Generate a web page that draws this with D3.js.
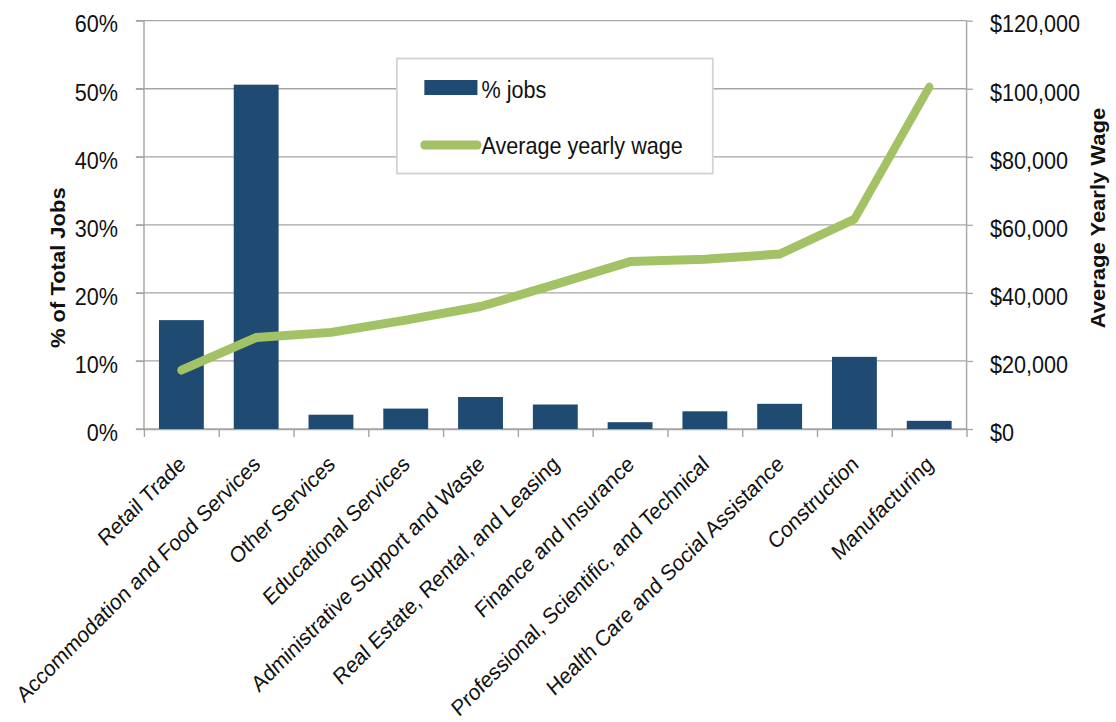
<!DOCTYPE html>
<html>
<head>
<meta charset="utf-8">
<script src="https://cdn.jsdelivr.net/npm/d3@7"></script>
<style>
  html, body { margin: 0; padding: 0; background: #fff; }
  svg { display: block; font-family: "Liberation Sans", Arial, sans-serif; }
</style>
</head>
<body>
<svg id="chart" width="1116" height="722"></svg>
<script>
// Industries, ordered by average yearly wage
const categories = [
  "Retail Trade",
  "Accommodation and Food Services",
  "Other Services",
  "Educational Services",
  "Administrative Support and Waste",
  "Real Estate, Rental, and Leasing",
  "Finance and Insurance",
  "Professional, Scientific, and Technical",
  "Health Care and Social Assistance",
  "Construction",
  "Manufacturing"
];
// Share of total jobs (%)
const pctJobs = [16.0, 50.6, 2.1, 3.0, 4.7, 3.6, 1.0, 2.6, 3.7, 10.6, 1.2];
// Average yearly wage ($)
const avgWage = [17300, 26900, 28400, 32000, 36000, 42500, 49200, 49900, 51400, 61700, 100500];

const leftTicks = [0, 10, 20, 30, 40, 50, 60];
const rightTicks = [0, 20000, 40000, 60000, 80000, 100000, 120000];
const seriesNames = ["% jobs", "Average yearly wage"];
const leftTitle = "% of Total Jobs";
const rightTitle = "Average Yearly Wage";

// The drawing is laid out on a slightly wider canvas and squeezed horizontally.
const sx = 0.9;
const W = 1116 / sx, H = 722;
const margin = { left: 160, right: W - 1074, top: 20.7, bottom: H - 429 };
const iw = W - margin.left - margin.right;
const ih = H - margin.top - margin.bottom;

const barColor = "#1f4a72";
const lineColor = "#a2c265";
const gridColor = "#a6a6a6";
const textColor = "#111";

const svg = d3.select("#chart");
const root = svg.append("g").attr("transform", `scale(${sx},1)`);
const g = root.append("g").attr("transform", `translate(${margin.left},${margin.top})`);

const x = d3.scaleBand().domain(categories).range([0, iw]).paddingInner(0.4).paddingOuter(0.2);
const xEdge = d3.scaleLinear().domain([0, categories.length]).range([0, iw]);
const yL = d3.scaleLinear().domain([0, 60]).range([ih, 0]);
const yR = d3.scaleLinear().domain([0, 120000]).range([ih, 0]);

// Horizontal gridlines (they start at the left tick marks)
g.append("g").selectAll("line").data(leftTicks).join("line")
  .attr("x1", -9).attr("x2", iw)
  .attr("y1", d => yL(d)).attr("y2", d => yL(d))
  .attr("stroke", gridColor).attr("stroke-width", 1.3);

// Left axis
const axL = g.append("g").call(d3.axisLeft(yL).tickValues(leftTicks)
  .tickFormat(d => d + "%").tickSize(9).tickPadding(20));
axL.select(".domain").remove();
axL.selectAll(".tick line").attr("stroke", gridColor).attr("stroke-width", 1.3);
axL.selectAll("text").attr("font-size", 24).attr("fill", textColor).attr("dy", "0.47em");
g.append("line").attr("x1", 0).attr("x2", 0).attr("y1", 0).attr("y2", ih)
  .attr("stroke", gridColor).attr("stroke-width", 1.6);

// Right axis
const axR = g.append("g").attr("transform", `translate(${iw},0)`)
  .call(d3.axisRight(yR).tickValues(rightTicks)
    .tickFormat(d => "$" + d3.format(",")(d)).tickSize(7).tickPadding(19));
axR.select(".domain").remove();
axR.selectAll(".tick line").attr("stroke", gridColor).attr("stroke-width", 1.3);
axR.selectAll("text").attr("font-size", 24).attr("fill", textColor).attr("dy", "0.47em");
g.append("line").attr("x1", iw).attr("x2", iw).attr("y1", 0).attr("y2", ih)
  .attr("stroke", gridColor).attr("stroke-width", 1.6);

// Bottom axis with tick marks between categories
const axB = g.append("g").attr("transform", `translate(0,${ih})`)
  .call(d3.axisBottom(xEdge).ticks(categories.length).tickFormat("").tickSize(8).tickSizeOuter(0));
axB.select(".domain").attr("stroke", gridColor).attr("stroke-width", 1.6);
axB.selectAll(".tick line").attr("stroke", gridColor).attr("stroke-width", 1.6);

// Bars
g.append("g").selectAll("rect").data(categories).join("rect")
  .attr("x", d => x(d))
  .attr("width", x.bandwidth())
  .attr("y", (d, i) => yL(pctJobs[i]))
  .attr("height", (d, i) => ih - yL(pctJobs[i]))
  .attr("fill", barColor);

// Wage line
const line = d3.line()
  .x((d, i) => x(categories[i]) + x.bandwidth() / 2)
  .y(d => yR(d));
g.append("path").datum(avgWage)
  .attr("d", line)
  .attr("fill", "none")
  .attr("stroke", lineColor)
  .attr("stroke-width", 9)
  .attr("stroke-linecap", "round")
  .attr("stroke-linejoin", "round");

// Category labels, rotated (42° here reads as 45° after the horizontal squeeze)
g.append("g").selectAll("text").data(categories).join("text")
  .attr("transform", d => `translate(${x(d) + x.bandwidth() / 2 + 6},${ih + 37}) rotate(-42)`)
  .attr("text-anchor", "end")
  .attr("font-size", 22.5)
  .attr("fill", textColor)
  .text(d => d);

// Axis titles
root.append("text")
  .attr("transform", `translate(64,${margin.top + yL(23.7)}) rotate(-90)`)
  .attr("text-anchor", "middle").attr("dy", "0.36em")
  .attr("font-size", 22).attr("font-weight", "bold").attr("fill", textColor)
  .text(leftTitle);
root.append("text")
  .attr("transform", `translate(1220,${margin.top + yR(62000)}) rotate(-90)`)
  .attr("text-anchor", "middle").attr("dy", "0.36em")
  .attr("font-size", 22).attr("font-weight", "bold").attr("fill", textColor)
  .text(rightTitle);

// Legend
const lg = root.append("g").attr("transform", "translate(441,58.5)");
lg.append("rect").attr("width", 351).attr("height", 115)
  .attr("fill", "#fff").attr("stroke", "#d4d4d4").attr("stroke-width", 2);
lg.append("rect").attr("x", 30.5).attr("y", 21.5).attr("width", 59).attr("height", 15)
  .attr("fill", barColor);
lg.append("line").attr("x1", 30.5).attr("x2", 89.5).attr("y1", 86.5).attr("y2", 86.5)
  .attr("stroke", lineColor).attr("stroke-width", 9).attr("stroke-linecap", "round");
lg.selectAll("text.lbl").data(seriesNames).join("text")
  .attr("class", "lbl")
  .attr("x", 94)
  .attr("y", (d, i) => i === 0 ? 40 : 96)
  .attr("font-size", 24).attr("fill", textColor)
  .text(d => d);
</script>
</body>
</html>
